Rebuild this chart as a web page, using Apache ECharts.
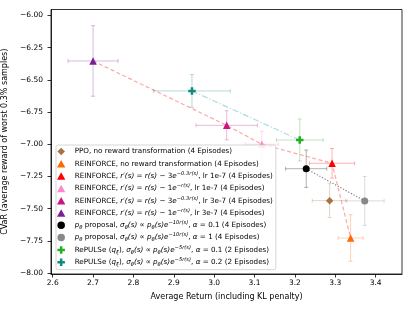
<!DOCTYPE html>
<html>
<head>
<meta charset="utf-8">
<script src="https://cdn.jsdelivr.net/npm/echarts@6/dist/echarts.min.js"></script>
<style>html,body{margin:0;padding:0;background:#fff}#c{width:412px;height:309px}</style>
</head>
<body>
<div id="c"></div>
<script>
// ---- data ----
const NAMES = [
  'PPO', 'REINFORCE none', 'REINFORCE 3e lr1e-7', 'REINFORCE 1e lr1e-7',
  'REINFORCE 3e lr3e-7', 'REINFORCE 1e lr3e-7', 'p proposal a0.1', 'p proposal a1',
  'RePULSe a0.1', 'RePULSe a0.2'
];
const AVG_RETURN = [3.286, 3.338, 3.292, 3.118, 3.031, 2.700, 3.228, 3.373, 3.212, 2.945];
const CVAR       = [-7.438, -7.728, -7.148, -7.000, -6.853, -6.353, -7.190, -7.440, -6.967, -6.586];
const RETURN_ERR = [0.043, 0.031, 0.056, 0.041, 0.076, 0.062, 0.051, 0.048, 0.058, 0.095];
const CVAR_ERR   = [0.132, 0.181, 0.115, 0.100, 0.113, 0.274, 0.145, 0.190, 0.163, 0.127];
const REINFORCE_LINE = [5, 4, 3, 2, 1];
const PROPOSAL_LINE = [6, 7];
const REPULSE_LINE = [9, 8];
const X_TICKS = [2.6, 2.7, 2.8, 2.9, 3.0, 3.1, 3.2, 3.3, 3.4];
const Y_TICKS = [-8.0, -7.75, -7.5, -7.25, -7.0, -6.75, -6.5, -6.25, -6.0];
const LABELS = [
  'PPO, no reward transformation (4 Episodes)',
  'REINFORCE, no reward transformation (4 Episodes)',
  'REINFORCE, {m|r′(s)} = {m|r(s)} − 3{m|e}{sup|−0.3r(s)}, lr 1e-7 (4 Episodes)',
  'REINFORCE, {m|r′(s)} = {m|r(s)} − 1{m|e}{sup|−r(s)}, lr 1e-7 (4 Episodes)',
  'REINFORCE, {m|r′(s)} = {m|r(s)} − 3{m|e}{sup|−0.3r(s)}, lr 3e-7 (4 Episodes)',
  'REINFORCE, {m|r′(s)} = {m|r(s)} − 1{m|e}{sup|−r(s)}, lr 3e-7 (4 Episodes)',
  '{m|p}{sub|θ} proposal, {m|σ}{sub|θ}{m|(s) ∝ p}{sub|θ}{m|(s)e}{sup|−10r(s)}, {m|α} = 0.1 (4 Episodes)',
  '{m|p}{sub|θ} proposal, {m|σ}{sub|θ}{m|(s) ∝ p}{sub|θ}{m|(s)e}{sup|−10r(s)}, {m|α} = 1 (4 Episodes)',
  'RePULSe ({m|q}{sub|ξ}), {m|σ}{sub|θ}{m|(s) ∝ p}{sub|θ}{m|(s)e}{sup|−5r(s)}, {m|α} = 0.1 (2 Episodes)',
  'RePULSe ({m|q}{sub|ξ}), {m|σ}{sub|θ}{m|(s) ∝ p}{sub|θ}{m|(s)e}{sup|−5r(s)}, {m|α} = 0.2 (2 Episodes)'
];

// ---- styles ----
const COLORS = ['#a8733f', '#ff6a00', '#ff0000', '#ff88cc', '#c8157f', '#7a1f9a', '#000000', '#888888', '#22b022', '#0d8c80'];
const PLUS = 'path://M3,0H6V3H9V6H6V9H3V6H0V3H3Z';
const DIAM = 'path://M5,0L10,5L5,10L0,5Z';
const TRI = 'path://M5,0L10,9L0,9Z';
const CIRC = 'circle';
const SYMBOLS = [DIAM, TRI, TRI, TRI, TRI, TRI, CIRC, CIRC, PLUS, PLUS];
const SIZES = [7.5, 7.5, 7.5, 7.5, 7.5, 7.5, 7, 7, 7.5, 7.5];
const FONT = 'DejaVu Sans';

const chart = echarts.init(document.getElementById('c'), null, {renderer: 'canvas'});

const series = [];
// error bars
series.push({
  type: 'custom',
  z: 1,
  silent: true,
  data: AVG_RETURN.map((x, i) => [x, CVAR[i], RETURN_ERR[i], CVAR_ERR[i]]),
  encode: {x: 0, y: 1},
  renderItem(params, api) {
    const x = api.value(0), y = api.value(1), ex = api.value(2), ey = api.value(3);
    const c = COLORS[params.dataIndex];
    const L = api.coord([x - ex, y]), R = api.coord([x + ex, y]);
    const T = api.coord([x, y + ey]), B = api.coord([x, y - ey]);
    const cap = 2;
    const st = {stroke: c, lineWidth: 1, opacity: 0.3};
    const ln = (x1, y1, x2, y2) => ({type: 'line', shape: {x1, y1, x2, y2}, style: st});
    return {type: 'group', children: [
      ln(L[0], L[1], R[0], R[1]),
      ln(T[0], T[1], B[0], B[1]),
      ln(L[0], L[1] - cap, L[0], L[1] + cap),
      ln(R[0], R[1] - cap, R[0], R[1] + cap),
      ln(T[0] - cap, T[1], T[0] + cap, T[1]),
      ln(B[0] - cap, B[1], B[0] + cap, B[1])
    ]};
  }
});
// connecting lines
function conn(idx, color, type, width, opacity) {
  return {
    type: 'line', z: 2, silent: true, symbol: 'none',
    data: idx.map(i => [AVG_RETURN[i], CVAR[i]]),
    lineStyle: {color, type, width, opacity}
  };
}
series.push(conn(REINFORCE_LINE, '#ff0000', [4, 2.5], 1.2, 0.35));
series.push(conn(REPULSE_LINE, '#0d9c9c', [6, 2, 1.2, 2], 1.2, 0.35));
series.push(conn(PROPOSAL_LINE, '#555555', [1.2, 1.8], 1.2, 0.75));
// markers
NAMES.forEach((n, i) => {
  series.push({
    type: 'scatter', name: n, z: 3,
    symbol: SYMBOLS[i], symbolSize: SIZES[i],
    itemStyle: {color: COLORS[i], opacity: 1},
    data: [[AVG_RETURN[i], CVAR[i]]]
  });
});

const option = {
  animation: false,
  backgroundColor: '#fff',
  grid: {left: 51, right: 10, top: 9.5, bottom: 35, containLabel: false, outerBoundsMode: 'none',
    show: true, borderColor: '#000', borderWidth: 0.8, backgroundColor: 'transparent'},
  xAxis: {
    type: 'value', min: 2.5958, max: 3.4653,
    name: 'Average Return (including KL penalty)', nameLocation: 'middle', nameGap: 19,
    nameTextStyle: {fontFamily: FONT, fontSize: 8, color: '#000'},
    axisLine: {show: true, onZero: false, lineStyle: {color: '#000', width: 0.8}},
    axisTick: {show: true, length: 3.5, customValues: X_TICKS, lineStyle: {color: '#000', width: 0.8}},
    axisLabel: {customValues: X_TICKS, fontFamily: FONT, fontSize: 7.5, color: '#000', margin: 5, formatter: v => v.toFixed(1)},
    splitLine: {show: false}
  },
  yAxis: {
    type: 'value', min: -8.0078, max: -5.9534,
    name: 'CVaR (average reward of worst 0.3% samples)', nameLocation: 'middle', nameGap: 39,
    nameTextStyle: {fontFamily: FONT, fontSize: 8, color: '#000'},
    axisLine: {show: true, onZero: false, lineStyle: {color: '#000', width: 0.8}},
    axisTick: {show: true, length: 3.5, customValues: Y_TICKS, lineStyle: {color: '#000', width: 0.8}},
    axisLabel: {customValues: Y_TICKS, fontFamily: FONT, fontSize: 7.5, color: '#000', margin: 8,
      formatter: v => v.toFixed(2).replace('-', '−')},
    splitLine: {show: false}
  },
  legend: {
    orient: 'vertical', left: 56, top: 145, z: 10,
    padding: [1.5, 3, 2.5, 1],
    itemWidth: 17, itemHeight: 7.5, itemGap: 2.3,
    backgroundColor: 'rgba(255,255,255,0.8)', borderColor: '#cccccc', borderWidth: 0.8, borderRadius: 2,
    data: NAMES.map((n, i) => ({name: n, icon: SYMBOLS[i]})),
    formatter: n => LABELS[NAMES.indexOf(n)],
    textStyle: {
      fontFamily: FONT, fontSize: 7.2, color: '#000', lineHeight: 10,
      rich: {
        m: {fontFamily: FONT, fontSize: 7.2, fontStyle: 'italic', color: '#000', lineHeight: 10},
        sup: {fontFamily: FONT, fontSize: 5.2, fontStyle: 'italic', color: '#000', lineHeight: 5, verticalAlign: 'top'},
        sub: {fontFamily: FONT, fontSize: 5.2, fontStyle: 'italic', color: '#000', lineHeight: 6, verticalAlign: 'bottom'}
      }
    }
  },
  series
};
chart.setOption(option);
</script>
</body>
</html>
